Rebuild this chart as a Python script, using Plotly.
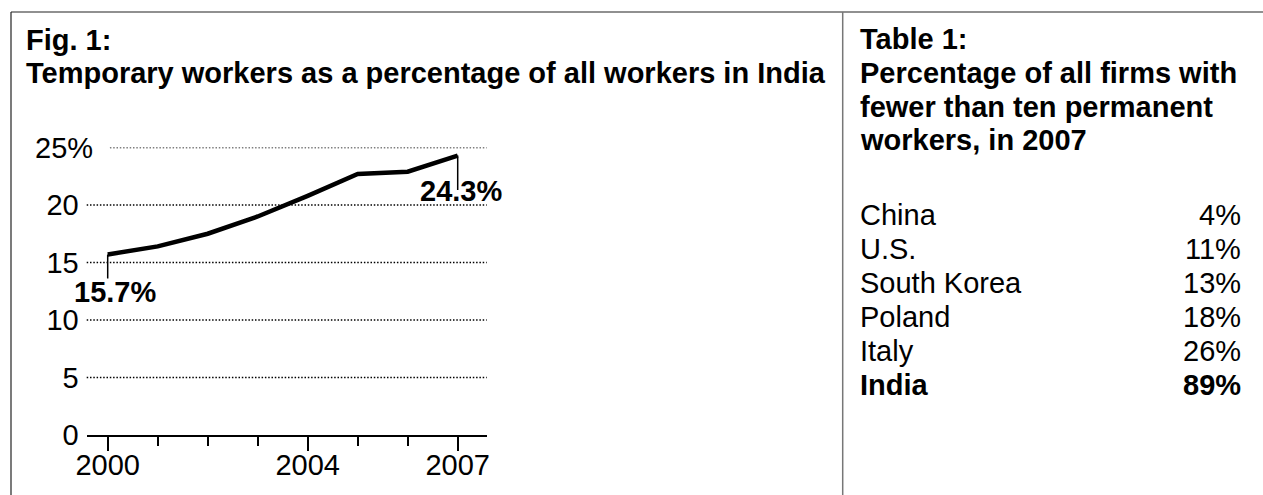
import plotly.graph_objects as go

# ---------------- data ----------------
years = [2000, 2001, 2002, 2003, 2004, 2005, 2006, 2007]
temp_share = [15.7, 16.4, 17.5, 19.0, 20.8, 22.7, 22.9, 24.3]

x_major = [2000, 2004, 2007]
x_minor = [2001, 2002, 2003, 2005, 2006]
y_ticks = [0, 5, 10, 15, 20, 25]
y_ticktext = ["0", "5", "10", "15", "20", "25%"]

fig_title = ["Fig. 1:", "Temporary workers as a percentage of all workers in India"]
table_title = ["Table 1:", "Percentage of all firms with", "fewer than ten permanent", "workers, in 2007"]
countries = ["China", "U.S.", "South Korea", "Poland", "Italy", "India"]
firm_share = ["4%", "11%", "13%", "18%", "26%", "89%"]
highlight = "India"

# ---------------- geometry helpers (page pixel space 1263x495) ----------------
W, H = 1263, 495
FONT = "Arial, Liberation Sans, sans-serif"
FS = 29


def px(x):
    return x / W


def py(y):
    return 1 - y / H


fig = go.Figure()
fig.add_trace(go.Scatter(x=years, y=temp_share, mode="lines",
                         line=dict(color="black", width=4.5),
                         hoverinfo="skip", showlegend=False))

shapes = []
# dotted gridlines
for v in y_ticks[1:]:
    shapes.append(dict(type="line", xref="x domain", yref="y",
                       x0=0.058 if v == y_ticks[-1] else 0.0, x1=1.0, y0=v, y1=v,
                       line=dict(color="black", width=1.6, dash="1.5px,1.8px"), layer="below"))
# leader lines to the end labels
shapes.append(dict(type="line", xref="x", yref="y", x0=years[0], x1=years[0],
                   y0=temp_share[0], y1=13.6, line=dict(color="black", width=1.5)))
shapes.append(dict(type="line", xref="x", yref="y", x0=years[-1], x1=years[-1],
                   y0=temp_share[-1], y1=21.3, line=dict(color="black", width=1.5)))
# frame
shapes.append(dict(type="line", xref="paper", yref="paper", x0=px(11), x1=1.0,
                   y0=py(12), y1=py(12), line=dict(color="#222", width=1.2)))
shapes.append(dict(type="line", xref="paper", yref="paper", x0=px(11), x1=px(11),
                   y0=py(12), y1=0, line=dict(color="#222", width=1.2)))
shapes.append(dict(type="line", xref="paper", yref="paper", x0=px(842.7), x1=px(842.7),
                   y0=py(12), y1=0, line=dict(color="#777", width=1.5)))

ann = []
for t, y in zip(fig_title, [40, 73.3]):
    ann.append(dict(text="<b>%s</b>" % t, xref="paper", yref="paper", x=px(24), y=py(y),
                    xanchor="left", yanchor="middle", showarrow=False,
                    font=dict(size=FS, family=FONT, color="black")))
for t, y in zip(table_title, [39, 72.7, 106.7, 140]):
    ann.append(dict(text="<b>%s</b>" % t, xref="paper", yref="paper", x=px(858), y=py(y),
                    xanchor="left", yanchor="middle", showarrow=False,
                    font=dict(size=FS, family=FONT, color="black")))
for i, (c, s) in enumerate(zip(countries, firm_share)):
    y = 215 + 34 * i
    bold = c == highlight
    ct = "<b>%s</b>" % c if bold else c
    st = "<b>%s</b>" % s if bold else s
    ann.append(dict(text=ct, xref="paper", yref="paper", x=px(858), y=py(y),
                    xanchor="left", yanchor="middle", showarrow=False,
                    font=dict(size=FS, family=FONT, color="black")))
    ann.append(dict(text=st, xref="paper", yref="paper", x=px(1243), y=py(y),
                    xanchor="right", yanchor="middle", showarrow=False,
                    font=dict(size=FS, family=FONT, color="black")))
# end-point value labels
ann.append(dict(text="<b>%.1f%%</b>" % temp_share[0], xref="x", yref="y",
                x=years[0] + 0.14, y=12.43, xanchor="center", yanchor="middle",
                showarrow=False, font=dict(size=FS, family=FONT, color="black")))
ann.append(dict(text="<b>%.1f%%</b>" % temp_share[-1], xref="x", yref="y",
                x=years[-1] + 0.07, y=21.26, xanchor="center", yanchor="middle",
                showarrow=False, font=dict(size=FS, family=FONT, color="black")))
# top y label carries the percent sign
ann.append(dict(text=y_ticktext[-1], xref="paper", yref="y", x=px(95), y=y_ticks[-1],
                xanchor="right", yanchor="middle", showarrow=False,
                font=dict(size=FS, family=FONT, color="black")))

fig.update_layout(
    width=W, height=H,
    margin=dict(l=0, r=0, t=0, b=0, autoexpand=False),
    paper_bgcolor="white", plot_bgcolor="white",
    showlegend=False,
    shapes=shapes, annotations=ann,
    font=dict(family=FONT, size=FS, color="black"),
    xaxis=dict(domain=[px(86.7), px(486.7)], range=[1999.58, 2007.58],
               automargin=False,
               tickvals=x_major, ticktext=[str(v) for v in x_major],
               ticks="outside", ticklen=14, tickwidth=2, tickcolor="black",
               ticklabelstandoff=-11,
               showline=True, linewidth=2, linecolor="black",
               showgrid=False, zeroline=False,
               minor=dict(tickvals=x_minor, ticks="outside", ticklen=9,
                          tickwidth=2, tickcolor="black"),
               tickfont=dict(size=FS, family=FONT, color="black")),
    yaxis=dict(domain=[py(435), py(147.5)], range=[0, 25],
               automargin=False,
               tickvals=y_ticks[:-1], ticktext=y_ticktext[:-1],
               ticks="", showline=False, showgrid=False, zeroline=False,
               ticklabelstandoff=7,
               tickfont=dict(size=FS, family=FONT, color="black")),
)

fig.write_html("out.html", config={"displayModeBar": False, "staticPlot": True},
               post_script="document.body.style.margin='0';document.body.style.overflow='hidden';")
